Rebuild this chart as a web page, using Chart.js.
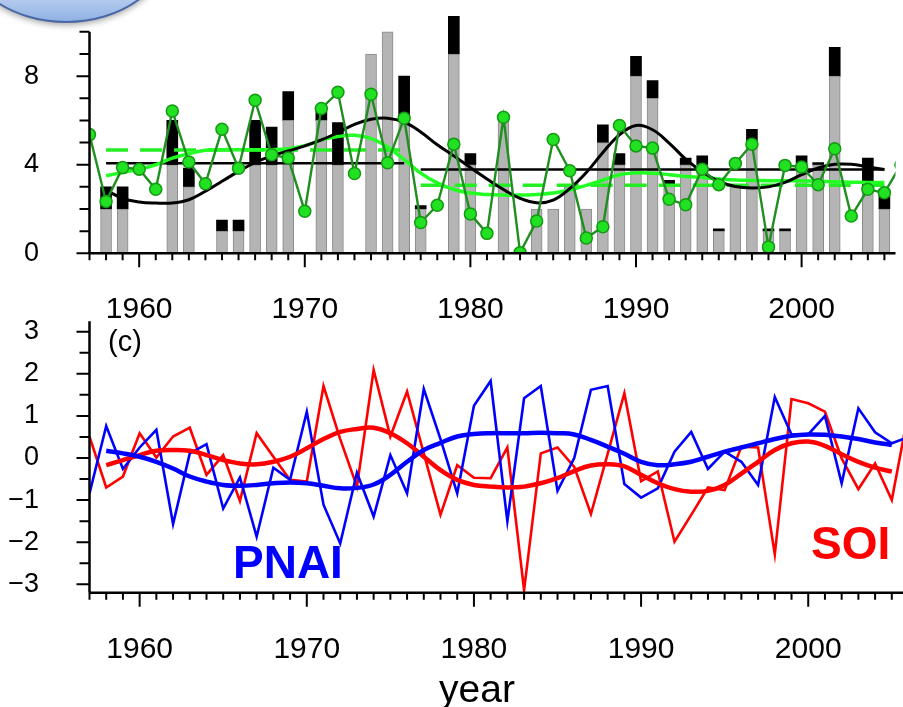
<!DOCTYPE html>
<html>
<head>
<meta charset="utf-8">
<script src="https://cdn.jsdelivr.net/npm/chart.js@4.4.1/dist/chart.umd.min.js"></script>
<style>
  body { margin: 0; background: #fff; width: 903px; height: 707px; overflow: hidden; position: relative; }
  canvas { position: absolute; left: 0; }
  #topChart { top: 0; }
  #bottomChart { top: 310px; }
</style>
</head>
<body>
<canvas id="topChart" width="903" height="330"></canvas>
<canvas id="bottomChart" width="903" height="397"></canvas>
<script>
// years 1957-2006
const years = [1957,1958,1959,1960,1961,1962,1963,1964,1965,1966,1967,1968,1969,1970,1971,1972,1973,1974,1975,1976,
  1977,1978,1979,1980,1981,1982,1983,1984,1985,1986,1987,1988,1989,1990,1991,1992,1993,1994,1995,1996,
  1997,1998,1999,2000,2001,2002,2003,2004,2005,2006];
const smoothYears = years.slice(1, 49); // 1958-2005

// top panel: bars (gray part + black cap), 1957-2005
const barGray = [0,2,2,0,0,4,3,0,1,1,4,4,6,0,6,4,0,9,10,6,2,0,9,4,0,6.1,0,2,2,3,2,5,4,8,7,3.1,4,4,1,3,5,1,1,4,4,8,0,3,2];
const barBlack = [0,1,1,0,0,2,0.85,0,0.5,0.5,2,1.7,1.3,0,0.4,1.9,0,0,0,2,0.15,0,1.7,0.5,0,0,0,0,0,0,0,0.8,0.5,0.9,0.8,0.2,0.3,0.4,0.1,0,0.6,0.1,0.1,0.4,0.1,1.3,0,1.3,0.9];

// top panel: green yearly series 1957-2006
const greenVals = [5.36,2.34,3.87,3.8,2.89,6.43,4.12,3.14,5.6,3.84,6.91,4.45,4.3,1.9,6.54,7.27,3.6,7.18,4.09,6.1,
  1.39,2.17,4.93,1.78,0.9,6.14,0.03,1.46,5.14,3.73,0.69,1.2,5.77,4.85,4.75,2.44,2.19,3.8,3.1,4.06,
  4.93,0.29,3.97,3.9,3.1,4.72,1.68,2.89,2.73,4.0];

// top panel: smoothed curves 1958-2005
const blackSmooth = [2.85,2.48,2.32,2.27,2.27,2.42,2.8,3.25,3.7,4.1,4.4,4.62,4.85,5.12,5.45,5.82,6.05,6.1,5.92,5.48,
  4.9,4.4,3.87,3.36,2.88,2.48,2.28,2.4,2.92,3.65,4.55,5.35,5.77,5.58,4.98,4.25,3.68,3.25,3.02,2.95,
  3.0,3.2,3.55,3.85,4.02,4.02,3.9,3.78];
const greenSmooth = [3.5,3.65,3.8,4.0,4.3,4.5,4.65,4.68,4.68,4.68,4.68,4.72,4.86,5.12,5.27,5.33,5.18,4.8,4.23,3.62,
  3.18,2.88,2.72,2.65,2.63,2.63,2.66,2.72,2.86,3.07,3.3,3.55,3.63,3.62,3.55,3.47,3.42,3.36,3.31,3.29,
  3.28,3.28,3.27,3.25,3.23,3.21,3.2,3.2];

// top panel: period means
const periods = [[1958, 1976], [1977, 2005]];
const blackMeans = [4.07, 3.78];
const greenMeans = [4.66, 3.07];
const topTicks = [0, 4, 8];

// bottom panel: SOI (red) and PNAI (blue), 1957-2006
const soiVals = [0.51,-0.7,-0.44,0.59,0.01,0.51,0.72,-0.4,0.07,-1.02,0.59,0.03,-0.52,-0.56,1.71,0.45,-0.68,2.09,0.51,1.58,
  0.11,-1.35,-0.17,-0.47,-0.48,0.25,-3.14,0.11,0.25,-0.21,-1.33,0.1,1.54,-0.55,-0.32,-1.99,-1.35,-0.7,-0.76,0.27,
  0.25,-2.29,1.4,1.3,1.1,-0.01,-0.74,-0.13,-1.0,1.1];
const pnaVals = [-0.84,0.76,-0.26,0.25,0.67,-1.57,0.11,0.33,-1.2,-0.46,-1.87,-0.23,-0.52,1.1,-1.11,-2.03,-0.35,-1.39,0.07,-0.84,
  1.64,0.45,-0.84,1.24,1.83,-1.5,1.42,1.71,-0.78,0.0,1.62,1.71,-0.62,-0.94,-0.72,0.15,0.62,-0.26,0.15,-0.09,
  -0.64,1.45,0.56,0.56,1.0,-0.6,1.18,0.61,0.35,0.5];
const soiSmooth = [-0.17,-0.05,0.07,0.17,0.19,0.17,0.07,-0.05,-0.13,-0.15,-0.09,0.03,0.23,0.45,0.62,0.69,0.72,0.59,0.35,0.03,
  -0.29,-0.52,-0.64,-0.68,-0.7,-0.68,-0.6,-0.48,-0.31,-0.18,-0.15,-0.2,-0.4,-0.6,-0.74,-0.8,-0.78,-0.64,-0.37,-0.09,
  0.19,0.35,0.39,0.29,0.09,-0.09,-0.23,-0.32];
const pnaSmooth = [0.17,0.11,0.03,-0.09,-0.25,-0.44,-0.56,-0.64,-0.66,-0.64,-0.6,-0.58,-0.6,-0.66,-0.72,-0.71,-0.63,-0.4,-0.09,0.19,
  0.36,0.51,0.57,0.59,0.59,0.59,0.6,0.59,0.56,0.43,0.27,0.1,-0.09,-0.17,-0.15,-0.09,0.03,0.15,0.25,0.35,
  0.45,0.53,0.56,0.55,0.51,0.45,0.37,0.31];

const xMin = 1957, xMax = 2005.67;
const FONT = "'Liberation Sans', Arial, Helvetica, sans-serif";
Chart.defaults.font.family = FONT;
Chart.defaults.color = '#000';

const pts = (xs, ys) => xs.map((x, i) => ({ x: x, y: ys[i] }));
const barPts = (vals) => vals.map((v, i) => ({ x: years[i], y: v })).filter(p => p.y > 0);
const segment = (i, vals) => [{ x: periods[i][0], y: vals[i] }, { x: periods[i][1], y: vals[i] }];
const yearLabel = v => String(v);

// fixed left axis width, and no extra top/bottom padding from the tick labels
function fitLeft(s) {
  s.width = 89.5;
  s.paddingTop = 0;
  s.paddingBottom = 0;
}

// axis lines and tick marks, drawn from the scales
function drawXTicks(ctx, chart, x, yPix) {
  ctx.lineWidth = 2;
  ctx.beginPath();
  for (let yr = 1957; yr <= 2005; yr++) {
    const p = x.getPixelForValue(yr);
    ctx.moveTo(p, yPix);
    ctx.lineTo(p, yPix + (yr % 10 === 0 ? 14 : 7));
  }
  ctx.stroke();
  ctx.lineWidth = 2.5;
  ctx.beginPath();
  ctx.moveTo(chart.chartArea.left, yPix);
  ctx.lineTo(chart.chartArea.right, yPix);
  ctx.stroke();
}

const topDecor = {
  id: 'topDecor',
  afterDatasetsDraw(chart) {
    const { ctx, scales: { x, y } } = chart;
    const left = chart.chartArea.left, y0 = y.getPixelForValue(0);
    ctx.save();
    ctx.strokeStyle = '#000';
    ctx.lineWidth = 2;
    ctx.beginPath();
    for (let v = 0; v <= 10; v++) {
      const p = y.getPixelForValue(v);
      ctx.moveTo(left, p);
      ctx.lineTo(left - (topTicks.includes(v) ? 13 : 10), p);
    }
    ctx.stroke();
    ctx.lineWidth = 2.5;
    ctx.beginPath();
    ctx.moveTo(left, y.getPixelForValue(10));
    ctx.lineTo(left, y0);
    ctx.stroke();
    drawXTicks(ctx, chart, x, y0);
    ctx.restore();
  },
  afterDraw(chart) {
    // glossy blue shape at the top-left corner
    const ctx = chart.ctx;
    ctx.save();
    ctx.shadowColor = 'rgba(0,0,0,0.35)';
    ctx.shadowBlur = 6;
    ctx.shadowOffsetY = 3;
    const g = ctx.createLinearGradient(0, -10, 0, 22);
    g.addColorStop(0, '#c4d6f2');
    g.addColorStop(1, '#8fb0e4');
    ctx.beginPath();
    ctx.ellipse(66, -60, 106, 82, 0, 0, 2 * Math.PI);
    ctx.fillStyle = g;
    ctx.fill();
    ctx.shadowColor = 'transparent';
    ctx.strokeStyle = '#4a68a6';
    ctx.lineWidth = 2;
    ctx.stroke();
    ctx.restore();
  }
};

new Chart(document.getElementById('topChart'), {
  type: 'bar',
  data: {
    datasets: [
      { type: 'line', data: pts(years, greenVals), borderColor: '#1f8f1f', borderWidth: 2.4,
        pointRadius: 6, pointBackgroundColor: '#22e022', pointBorderColor: '#139913', pointBorderWidth: 1.5,
        tension: 0, order: 1 },
      { type: 'line', data: pts(smoothYears, blackSmooth), borderColor: '#000', borderWidth: 3,
        pointRadius: 0, tension: 0.4, order: 2 },
      { type: 'line', data: pts(smoothYears, greenSmooth), borderColor: '#22ff22', borderWidth: 3.5,
        pointRadius: 0, tension: 0.4, order: 3 },
      { type: 'line', data: segment(0, greenMeans), borderColor: '#22ee22', borderWidth: 3.5,
        borderDash: [22, 12], pointRadius: 0, order: 4 },
      { type: 'line', data: segment(1, greenMeans), borderColor: '#22ee22', borderWidth: 3.5,
        borderDash: [22, 12], pointRadius: 0, order: 4 },
      { type: 'line', data: segment(0, blackMeans), borderColor: '#000', borderWidth: 2.5, pointRadius: 0, order: 5 },
      { type: 'line', data: segment(1, blackMeans), borderColor: '#000', borderWidth: 2.5, pointRadius: 0, order: 5 },
      { type: 'bar', data: barPts(barGray), yAxisID: 'yBar', backgroundColor: '#b4b4b4',
        borderColor: '#8a8a8a', borderWidth: 1, barThickness: 11, grouped: false, order: 10 },
      { type: 'bar', data: barPts(barBlack), yAxisID: 'yBar', backgroundColor: '#000',
        borderWidth: 0, barThickness: 11, grouped: false, order: 10 }
    ]
  },
  options: {
    responsive: false,
    animation: false,
    devicePixelRatio: 1,
    layout: { padding: 0 },
    plugins: { legend: { display: false }, tooltip: { enabled: false } },
    scales: {
      x: {
        type: 'linear', min: xMin, max: xMax, offset: false,
        grid: { display: false }, border: { display: false },
        ticks: { stepSize: 10, includeBounds: false, callback: yearLabel, padding: 30, font: { size: 30 }, maxRotation: 0 },
        afterFit(s) { s.height = 76.7; }
      },
      y: {
        min: 0, max: 11.1,
        grid: { display: false }, border: { display: false },
        ticks: { stepSize: 4, includeBounds: false, callback: v => String(v), padding: 42.5, font: { size: 27 } },
        afterFit: fitLeft
      },
      yBar: { min: 0, max: 11.1, stacked: true, display: false }
    }
  },
  plugins: [topDecor]
});

const bottomDecor = {
  id: 'bottomDecor',
  afterDatasetsDraw(chart) {
    const { ctx, scales: { x, y } } = chart;
    const left = chart.chartArea.left;
    ctx.save();
    ctx.strokeStyle = '#000';
    ctx.lineWidth = 2;
    ctx.beginPath();
    for (let v = -3; v <= 3; v += 0.5) {
      const p = y.getPixelForValue(v);
      ctx.moveTo(left, p);
      ctx.lineTo(left - (Number.isInteger(v) ? 13 : 10), p);
    }
    ctx.stroke();
    ctx.lineWidth = 2.5;
    ctx.beginPath();
    ctx.moveTo(left, chart.chartArea.top);
    ctx.lineTo(left, chart.chartArea.bottom);
    ctx.stroke();
    drawXTicks(ctx, chart, x, chart.chartArea.bottom);
    ctx.restore();
  },
  afterDraw(chart) {
    const ctx = chart.ctx;
    ctx.save();
    ctx.textBaseline = 'alphabetic';
    ctx.textAlign = 'left';
    ctx.fillStyle = '#000';
    ctx.font = '29px ' + FONT;
    ctx.fillText('(c)', 108, 41);
    ctx.font = 'bold 46px ' + FONT;
    ctx.fillStyle = '#0000ff';
    ctx.fillText('PNAI', 233, 268);
    ctx.fillStyle = '#ff0000';
    ctx.fillText('SOI', 811, 249);
    ctx.fillStyle = '#000';
    ctx.textAlign = 'center';
    ctx.font = '39px ' + FONT;
    ctx.fillText('year', 477, 392);
    ctx.restore();
  }
};

new Chart(document.getElementById('bottomChart'), {
  type: 'line',
  data: {
    datasets: [
      { data: pts(years, soiVals), borderColor: '#ff0000', borderWidth: 2.6, pointRadius: 0, tension: 0, order: 4 },
      { data: pts(years, pnaVals), borderColor: '#0000ff', borderWidth: 2.6, pointRadius: 0, tension: 0, order: 3 },
      { data: pts(smoothYears, soiSmooth), borderColor: '#ff0000', borderWidth: 4.5, pointRadius: 0, tension: 0.4, order: 2 },
      { data: pts(smoothYears, pnaSmooth), borderColor: '#0000ff', borderWidth: 4.5, pointRadius: 0, tension: 0.4, order: 1 }
    ]
  },
  options: {
    responsive: false,
    animation: false,
    devicePixelRatio: 1,
    layout: { padding: { top: 11.2 } },
    plugins: { legend: { display: false }, tooltip: { enabled: false } },
    scales: {
      x: {
        type: 'linear', min: xMin, max: xMax,
        grid: { display: false }, border: { display: false },
        ticks: { stepSize: 10, includeBounds: false, callback: yearLabel, padding: 31, font: { size: 30 }, maxRotation: 0 },
        afterFit(s) { s.height = 114.3; }
      },
      y: {
        min: -3.2, max: 3.25,
        grid: { display: false }, border: { display: false },
        ticks: { stepSize: 1, includeBounds: false, padding: 42.5, font: { size: 27 },
          callback: v => v < 0 ? '\u2212' + Math.abs(v) : String(v) },
        afterFit: fitLeft
      }
    }
  },
  plugins: [bottomDecor]
});
</script>
</body>
</html>
